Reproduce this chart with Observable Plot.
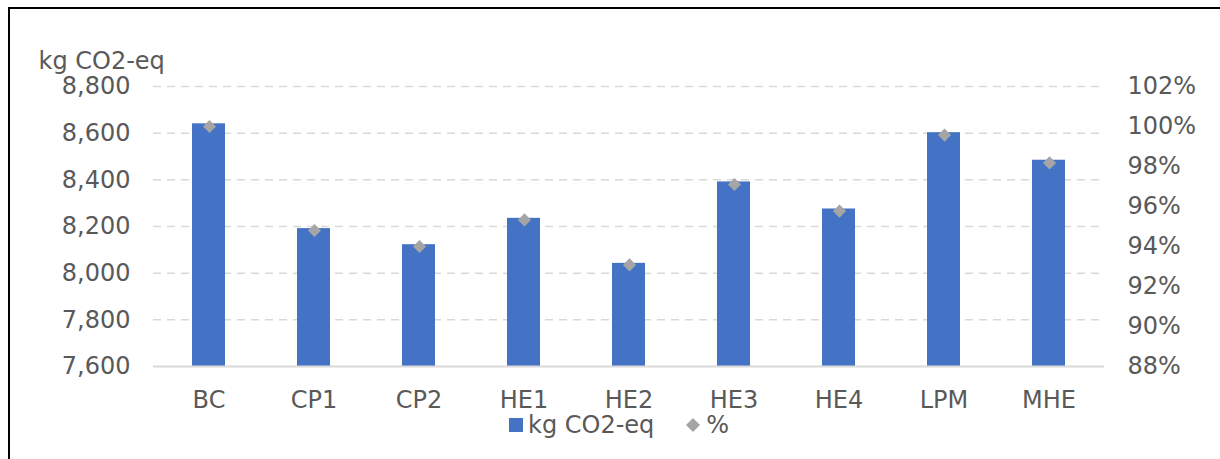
<!DOCTYPE html>
<html>
<head>
<meta charset="utf-8">
<script src="https://cdn.jsdelivr.net/npm/d3@7"></script>
<script src="https://cdn.jsdelivr.net/npm/@observablehq/plot@0.6"></script>
<style>
  html, body { margin: 0; padding: 0; background: #fff; }
  #wrap { position: relative; width: 1220px; height: 459px; overflow: hidden; font-family: "DejaVu Sans", Verdana, sans-serif; color: #595959; }
  #border { position: absolute; left: 8px; top: 7px; width: 1230px; height: 470px; border-top: 2px solid #000; border-left: 2px solid #000; }
  .layer { position: absolute; left: 0; top: 0; }
  #legend { position: absolute; left: 509px; top: 411px; display: flex; align-items: center; font-size: 24px; white-space: nowrap; }
  #legend .sw { display: inline-block; }
</style>
</head>
<body>
<div id="wrap">
  <div id="border"></div>
  <div id="p1" class="layer"></div>
  <div id="p2" class="layer"></div>
  <div id="legend"></div>
</div>
<script>
// ---- data ----
const categories = ["BC", "CP1", "CP2", "HE1", "HE2", "HE3", "HE4", "LPM", "MHE"];
const emissions = [8640, 8191, 8122, 8235, 8042, 8391, 8275, 8602, 8484];
const percent = [100.0, 94.8, 94.0, 95.33, 93.08, 97.1, 95.77, 99.57, 98.18];
const leftTicks = [7600, 7800, 8000, 8200, 8400, 8600, 8800];
const rightTicks = [88, 90, 92, 94, 96, 98, 100, 102];
const seriesNames = ["kg CO2-eq", "%"];
const yTitle = "kg CO2-eq";

const barColor = "#4472c4";
const dotColor = "#a5a5a5";
const gridColor = "#d9d9d9";
const textColor = "#595959";

const rows = categories.map((c, i) => ({cat: c, value: emissions[i], pct: percent[i]}));

const common = {
  width: 1220,
  height: 459,
  marginLeft: 153,
  marginRight: 116,
  marginTop: 86,
  marginBottom: 93,
  x: {domain: categories, paddingInner: 0.69, paddingOuter: 0.345}
};

const p1 = Plot.plot({
  ...common,
  style: {fontFamily: '"DejaVu Sans", Verdana, sans-serif', fontSize: "24px", color: textColor, background: "transparent", overflow: "visible"},
  y: {domain: [leftTicks[0], leftTicks[leftTicks.length - 1]]},
  marks: [
    Plot.ruleY(leftTicks.slice(1), {stroke: gridColor, strokeWidth: 1.5, strokeDasharray: "8,6"}),
    Plot.barY(rows, {x: "cat", y1: () => leftTicks[0], y2: "value", fill: barColor}),
    Plot.ruleY([leftTicks[0]], {stroke: gridColor, strokeWidth: 2}),
    Plot.axisY({ticks: leftTicks, tickSize: 0, tickPadding: 23, tickFormat: d3.format(","), label: null, fill: textColor}),
    Plot.axisX({tickSize: 0, tickPadding: 24, label: null, fill: textColor}),
    Plot.text([yTitle], {frameAnchor: "top-left", textAnchor: "start", dx: -115, dy: -35, fill: textColor, fontSize: 24})
  ]
});
document.getElementById("p1").append(p1);

const p2 = Plot.plot({
  ...common,
  style: {fontFamily: '"DejaVu Sans", Verdana, sans-serif', fontSize: "24px", color: textColor, background: "transparent", overflow: "visible"},
  y: {domain: [rightTicks[0], rightTicks[rightTicks.length - 1]]},
  marks: [
    Plot.dot(rows, {x: "cat", y: "pct", symbol: "diamond2", r: 5.9, fill: dotColor, stroke: "none"}),
    Plot.axisY({anchor: "right", ticks: rightTicks, tickSize: 0, tickPadding: 23, tickFormat: d => d + "%", label: null, fill: textColor}),
    Plot.axisX({ticks: [], label: null})
  ]
});
document.getElementById("p2").append(p2);

// legend
const legend = document.getElementById("legend");
legend.innerHTML =
  `<svg class="sw" width="14" height="14" style="margin-right:5px"><rect width="14" height="14" fill="${barColor}"/></svg>` +
  `<span>${seriesNames[0]}</span>` +
  `<svg class="sw" width="14" height="14" style="margin-left:32px;margin-right:6px"><path d="M7,0L14,7L7,14L0,7Z" fill="${dotColor}"/></svg>` +
  `<span>${seriesNames[1]}</span>`;
</script>
</body>
</html>
